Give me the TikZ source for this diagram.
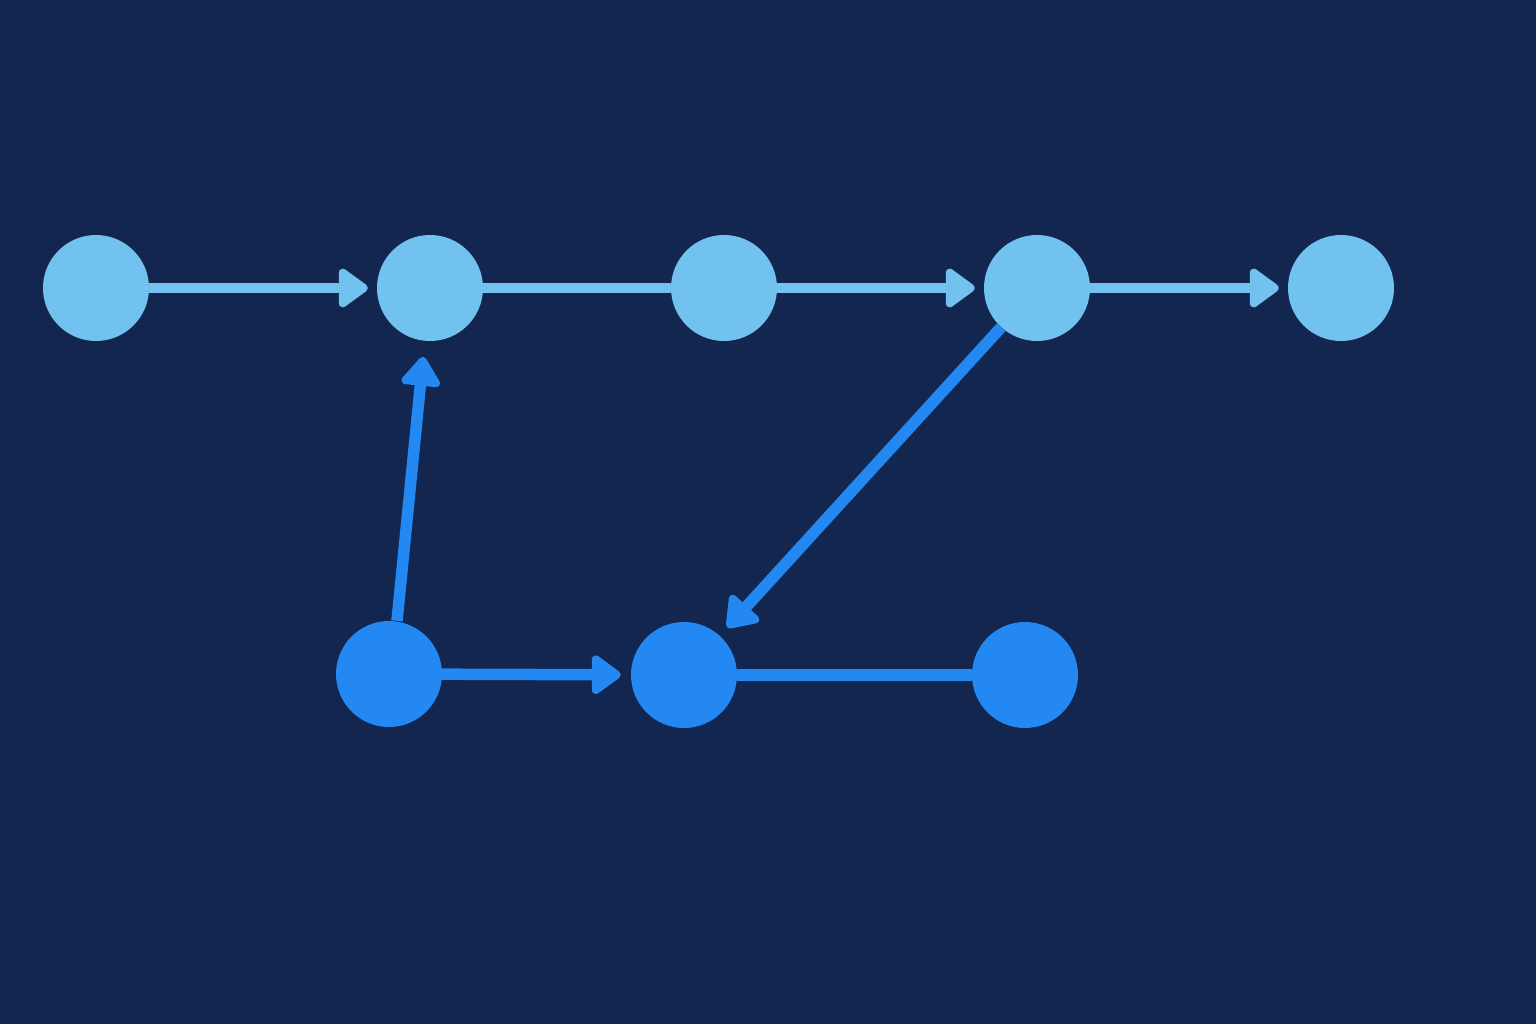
\documentclass[tikz,border=0pt]{standalone}
\usetikzlibrary{arrows.meta}
\definecolor{bg}{HTML}{13264F}
\definecolor{lightn}{HTML}{72C2F0}
\definecolor{darkn}{HTML}{2388F2}
\begin{document}
\begin{tikzpicture}[x=1pt,y=-1pt,
  topnode/.style={circle,fill=lightn,minimum size=106pt,inner sep=0pt},
  botnode/.style={circle,fill=darkn,minimum size=106pt,inner sep=0pt},
  topline/.style={draw=lightn,line width=9.5pt},
  botline/.style={draw=darkn,line width=11.5pt},
  tip/.style={-{Triangle[length=32pt,width=44pt,round]}}
]
\fill[bg] (0,0) rectangle (1536,1024);
\useasboundingbox (0,0) rectangle (1536,1024);
\node[topnode] (t1) at (96,288) {};
\node[topnode] (t2) at (430,288) {};
\node[topnode] (t3) at (724,288) {};
\node[topnode] (t4) at (1037,288) {};
\node[topnode] (t5) at (1341,288) {};
\node[botnode] (b1) at (389,674) {};
\node[botnode] (b2) at (684,675) {};
\node[botnode] (b3) at (1025,675) {};
\draw[topline,tip,shorten >=9pt] (t1) -- (t2);
\draw[topline] (t2) -- (t3);
\draw[topline,tip,shorten >=9pt] (t3) -- (t4);
\draw[topline,tip,shorten >=9pt] (t4) -- (t5);
\draw[botline,tip,shorten >=16pt] (b1.north) ++(8,0) coordinate (b1s) (b1s) -- (t2);
\draw[botline,tip,shorten >=11pt] (t4) -- (b2);
\draw[botline,tip,shorten >=10pt] (b1) -- (b2);
\draw[botline] (b2) -- (b3);
\end{tikzpicture}
\end{document}
